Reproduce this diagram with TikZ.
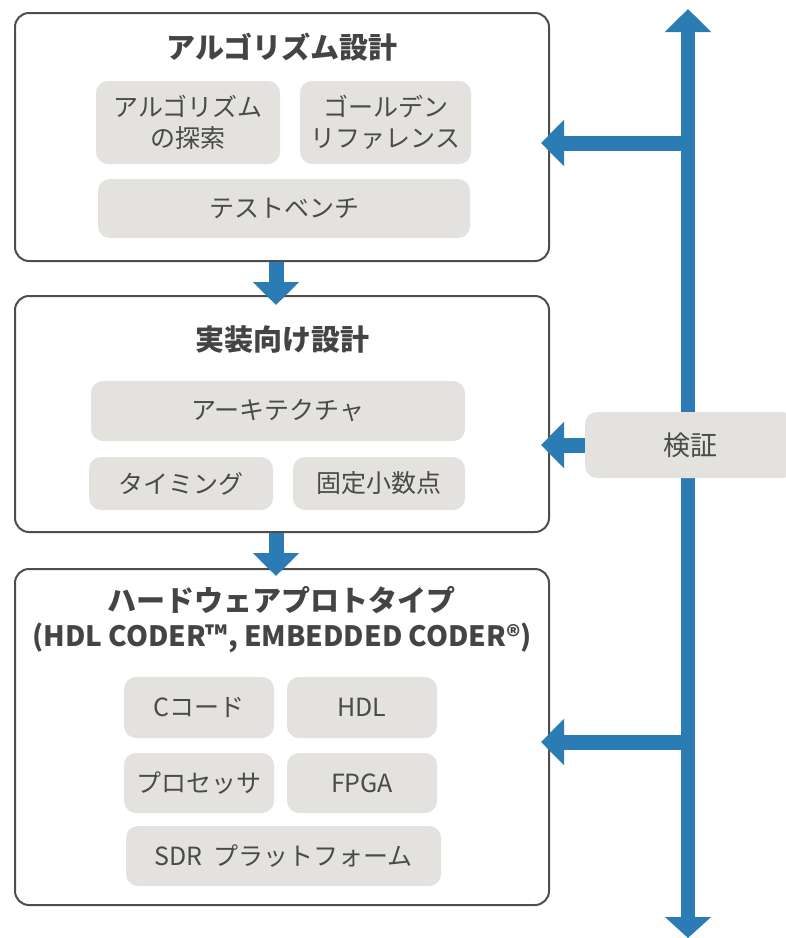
\documentclass[tikz,border=0pt]{standalone}
\usepackage{fontspec}
\setmainfont{Noto Sans CJK JP}
\usetikzlibrary{arrows.meta,calc}
\definecolor{blu}{HTML}{2B7BB4}
\definecolor{pillc}{HTML}{E3E2DE}
\definecolor{frame}{HTML}{4D4D4D}
\definecolor{txt}{HTML}{4A4A4A}
\definecolor{ttlc}{HTML}{444444}
\tikzset{
  stage/.style={draw=frame, line width=2pt, rounded corners=14pt, fill=white, inner sep=0pt},
  pill/.style={fill=pillc, rounded corners=12pt, text=txt, font=\fontsize{25}{31}\selectfont, align=center, inner sep=0pt},
  ttl/.style={text=ttlc, font=\bfseries\fontsize{29}{35}\selectfont, align=center, inner sep=0pt},
  flow/.style={draw=blu, line width=15pt, -{Triangle[width=45pt,length=23pt]}},
  spine/.style={draw=blu, line width=14pt, {Triangle[width=45pt,length=23pt]}-{Triangle[width=45pt,length=21pt]}},
}
\begin{document}
\begin{tikzpicture}[x=1pt,y=-1pt]
\useasboundingbox (0,0) rectangle (786,938);
\fill[white] (0,0) rectangle (786,938);
\clip (0,0) rectangle (786,938);

% stages
\node[stage, minimum width=534pt, minimum height=248pt] (b1) at (282,137) {};
\node[stage, minimum width=534pt, minimum height=236pt] (b2) at (282,414) {};
\node[stage, minimum width=534pt, minimum height=336pt] (b3) at (282,737) {};

% titles
\node[ttl] (t1) at (282,47) {アルゴリズム設計};
\node[ttl] (t2) at (282,340) {実装向け設計};
\node[ttl] (t3) at (282,620) {ハードウェアプロトタイプ\\{\fontsize{28}{35}\selectfont (HDL CODER\texttrademark, EMBEDDED CODER{\fontsize{27}{27}\selectfont ®})}};

% pills
\node[pill, minimum width=184pt, minimum height=83pt] (p11) at (188,122.5) {アルゴリズム\\の探索};
\node[pill, minimum width=171pt, minimum height=83pt] (p12) at (385.5,122.5) {ゴールデン\\リファレンス};
\node[pill, minimum width=372pt, minimum height=59pt] (p13) at (284,208.5) {テストベンチ};
\node[pill, minimum width=374pt, minimum height=60pt] (p21) at (278,411) {アーキテクチャ};
\node[pill, minimum width=184pt, minimum height=53pt] (p22) at (181,483.5) {タイミング};
\node[pill, minimum width=172pt, minimum height=53pt] (p23) at (379,483.5) {固定小数点};
\node[pill, minimum width=150pt, minimum height=61pt] (p31) at (199,707.5) {Cコード};
\node[pill, minimum width=150pt, minimum height=61pt] (p32) at (362,707.5) {HDL};
\node[pill, minimum width=150pt, minimum height=60pt] (p33) at (199,783) {プロセッサ};
\node[pill, minimum width=150pt, minimum height=60pt] (p34) at (362,783) {FPGA};
\node[pill, minimum width=315pt, minimum height=60pt] (p35) at (283.5,856) {SDR\hspace{0.45em}プラットフォーム};

% down arrows
\draw[flow] ($(b1.south)+(-6,0)$) -- ($(b2.north)+(-6,10)$);
\draw[flow] ($(b2.south)+(-6,0)$) -- ($(b3.north)+(-6,8)$);

% spine
\coordinate (top) at (688,9);
\coordinate (bot) at (688,938);
\draw[spine] (top) -- (bot);
\coordinate (j1) at (688,143);
\coordinate (j3) at (688,742);
\draw[flow] (j1) -- ($(j1 -| b1.east)+(-9,0)$);
\draw[flow] (j3) -- ($(j3 -| b3.east)+(-9,0)$);

% verify
\node[pill, font=\fontsize{27}{31}\selectfont, minimum width=210pt, minimum height=66pt] (ver) at (690,445) {検証};
\draw[flow] (ver.west) -- ($(ver.west -| b2.east)+(-9,0)$);
\end{tikzpicture}
\end{document}
